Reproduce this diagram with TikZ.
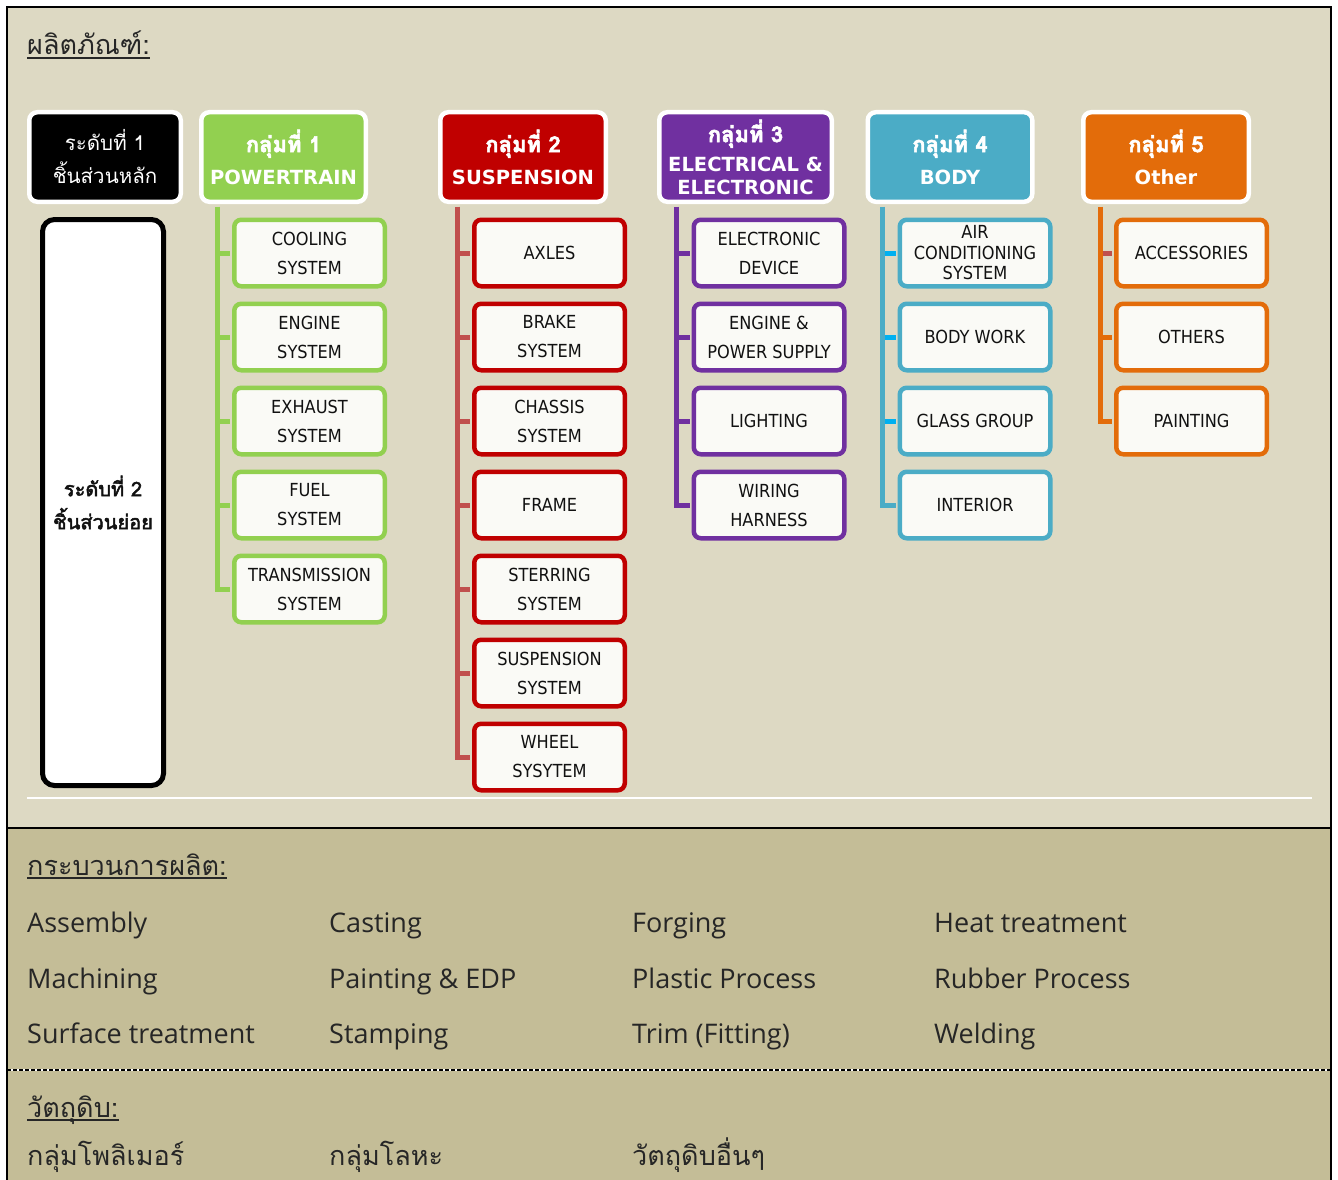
\documentclass[tikz,border=0pt]{standalone}
\usepackage{fontspec}
\setmainfont{Open Sans}
\newfontfamily\thaifont[Script=Thai]{Loma}
\newfontfamily\thaibold[Script=Thai, FakeBold=2.5]{Loma}
\newfontfamily\boxfont{DejaVu Sans Condensed}
\newfontfamily\headfont{DejaVu Sans}
\definecolor{topbg}{HTML}{DDD9C3}
\definecolor{botbg}{HTML}{C4BD97}
\definecolor{boxwhite}{HTML}{FAFAF6}
\definecolor{boxtext}{HTML}{111111}
\definecolor{lbltext}{HTML}{262626}
\definecolor{grp1}{HTML}{92D050}
\definecolor{grp2}{HTML}{C00000}
\definecolor{grp2line}{HTML}{C0504D}
\definecolor{grp3}{HTML}{7030A0}
\definecolor{grp4}{HTML}{4BACC6}
\definecolor{grp4stub}{HTML}{00B0F0}
\definecolor{grp5}{HTML}{E36C0A}
\newcommand{\grpname}[1]{{\thaibold\fontsize{22}{33}\selectfont #1}}
\tikzset{
  hdbox/.style={draw=white, fill=#1, line width=4.5pt, rounded corners=8pt,
    minimum height=89.5pt, align=center, text=white, inner sep=0pt,
    font=\headfont\bfseries\fontsize{19.5}{32}\selectfont},
  subbox/.style={draw=#1, fill=boxwhite, line width=4.5pt, rounded corners=7pt,
    minimum width=150.5pt, minimum height=66.5pt, align=center, text=boxtext,
    inner sep=0pt, font=\boxfont\fontsize{18}{29}\selectfont},
  trunk/.style={draw=#1, line width=5pt},
  heading/.style={anchor=base west, inner sep=0pt, text=lbltext,
    font=\thaifont\fontsize{27}{30}\selectfont},
  proclbl/.style={anchor=base west, inner sep=0pt, text=lbltext,
    font=\fontsize{27}{30}\selectfont},
  matlbl/.style={anchor=base west, inner sep=0pt, text=lbltext,
    font=\thaifont\fontsize{27}{30}\selectfont},
}
\begin{document}
\begin{tikzpicture}[x=1pt,y=-1pt]

\fill[white] (0,0) rectangle (1338,1180);
\useasboundingbox (0,0) rectangle (1338,1180);
\fill[topbg] (7,7) rectangle (1331,828);
\fill[botbg] (7,828) rectangle (1331,1182);
\draw[line width=1.5pt] (7,1182) -- (7,7) -- (1331,7) -- (1331,1182);
\draw[line width=1.5pt] (7,828) -- (1331,828);
\draw[white, line width=1.5pt] (7,1070) -- (1331,1070);
\draw[line width=1.5pt, dash pattern=on 4pt off 2pt] (7,1070) -- (1331,1070);
\draw[white, line width=2pt] (27,798) -- (1312,798);

% products
\node[heading] (tProd) at (27,55) {ผลิตภัณฑ์:};
\draw[lbltext, line width=1.3pt] ([yshift=-3pt]tProd.base west) -- ([yshift=-3pt]tProd.base east);

\node[hdbox=black, minimum width=151.5pt, font=\thaifont\fontsize{20.5}{33}\selectfont] (hdL1) at (105,157) {ระดับที่ 1\\ชิ้นส่วนหลัก};
\node[draw=black, fill=white, line width=5pt, rounded corners=12pt, minimum width=121pt,
  minimum height=566pt, align=center, text=boxtext, font=\thaibold\fontsize{20}{33}\selectfont] (hdL2) at (103,502.5) {ระดับที่ 2\\ชิ้นส่วนย่อย};

\node[hdbox=grp1, minimum width=164.5pt] (hdA) at (283.5,157) {\grpname{กลุ่มที่ 1}\\POWERTRAIN};
\node[hdbox=grp2, minimum width=165.5pt] (hdB) at (523,157) {\grpname{กลุ่มที่ 2}\\SUSPENSION};
\node[hdbox=grp3, minimum width=172.5pt, font=\headfont\bfseries\fontsize{19.5}{23}\selectfont] (hdC) at (745.5,157) {\grpname{กลุ่มที่ 3}\\[6pt]ELECTRICAL \&\\ELECTRONIC};
\node[hdbox=grp4, minimum width=164.5pt] (hdD) at (950,157) {\grpname{กลุ่มที่ 4}\\BODY};
\node[hdbox=grp5, minimum width=165.5pt] (hdE) at (1166,157) {\grpname{กลุ่มที่ 5}\\Other};

% group 1
\node[subbox=grp1] (cA1) at (309.5,253) {COOLING\\SYSTEM};
\node[subbox=grp1] (cA2) at (309.5,337) {ENGINE\\SYSTEM};
\node[subbox=grp1] (cA3) at (309.5,421) {EXHAUST\\SYSTEM};
\node[subbox=grp1] (cA4) at (309.5,505) {FUEL\\SYSTEM};
\node[subbox=grp1] (cA5) at (309.5,589) {TRANSMISSION\\SYSTEM};

% group 2
\node[subbox=grp2] (cB1) at (549.5,253) {AXLES};
\node[subbox=grp2] (cB2) at (549.5,337) {BRAKE\\SYSTEM};
\node[subbox=grp2] (cB3) at (549.5,421) {CHASSIS\\SYSTEM};
\node[subbox=grp2] (cB4) at (549.5,505) {FRAME};
\node[subbox=grp2] (cB5) at (549.5,589) {STERRING\\SYSTEM};
\node[subbox=grp2] (cB6) at (549.5,673) {SUSPENSION\\SYSTEM};
\node[subbox=grp2] (cB7) at (549.5,757) {WHEEL\\SYSYTEM};

% group 3
\node[subbox=grp3] (cC1) at (769,253) {ELECTRONIC\\DEVICE};
\node[subbox=grp3] (cC2) at (769,337) {ENGINE \&\\POWER SUPPLY};
\node[subbox=grp3] (cC3) at (769,421) {LIGHTING};
\node[subbox=grp3] (cC4) at (769,505) {WIRING\\HARNESS};

% group 4
\node[subbox=grp4, font=\boxfont\fontsize{18}{20.5}\selectfont] (cD1) at (975,253) {AIR\\CONDITIONING\\SYSTEM};
\node[subbox=grp4] (cD2) at (975,337) {BODY WORK};
\node[subbox=grp4] (cD3) at (975,421) {GLASS GROUP};
\node[subbox=grp4] (cD4) at (975,505) {INTERIOR};

% group 5
\node[subbox=grp5] (cE1) at (1191.5,253) {ACCESSORIES};
\node[subbox=grp5] (cE2) at (1191.5,337) {OTHERS};
\node[subbox=grp5] (cE3) at (1191.5,421) {PAINTING};

% trunks
\coordinate (tA) at ([xshift=18pt,yshift=-2.5pt]hdA.south west);
\coordinate (tB) at ([xshift=19pt,yshift=-2.5pt]hdB.south west);
\coordinate (tC) at ([xshift=19pt,yshift=-2.5pt]hdC.south west);
\coordinate (tD) at ([xshift=17pt,yshift=-2.5pt]hdD.south west);
\coordinate (tE) at ([xshift=19pt,yshift=-2.5pt]hdE.south west);

\draw[trunk=grp1] (tA) |- ([xshift=-2pt]cA5.west);
\draw[trunk=grp1] (tA |- cA1.west) -- ([xshift=-2pt]cA1.west);
\draw[trunk=grp1] (tA |- cA2.west) -- ([xshift=-2pt]cA2.west);
\draw[trunk=grp1] (tA |- cA3.west) -- ([xshift=-2pt]cA3.west);
\draw[trunk=grp1] (tA |- cA4.west) -- ([xshift=-2pt]cA4.west);

\draw[trunk=grp2line] (tB) |- ([xshift=-2pt]cB7.west);
\draw[trunk=grp2line] (tB |- cB1.west) -- ([xshift=-2pt]cB1.west);
\draw[trunk=grp2line] (tB |- cB2.west) -- ([xshift=-2pt]cB2.west);
\draw[trunk=grp2line] (tB |- cB3.west) -- ([xshift=-2pt]cB3.west);
\draw[trunk=grp2line] (tB |- cB4.west) -- ([xshift=-2pt]cB4.west);
\draw[trunk=grp2line] (tB |- cB5.west) -- ([xshift=-2pt]cB5.west);
\draw[trunk=grp2line] (tB |- cB6.west) -- ([xshift=-2pt]cB6.west);

\draw[trunk=grp3] (tC) |- ([xshift=-2pt]cC4.west);
\draw[trunk=grp3] (tC |- cC1.west) -- ([xshift=-2pt]cC1.west);
\draw[trunk=grp3] (tC |- cC2.west) -- ([xshift=-2pt]cC2.west);
\draw[trunk=grp3] (tC |- cC3.west) -- ([xshift=-2pt]cC3.west);

\draw[trunk=grp4] (tD) |- ([xshift=-2pt]cD4.west);
\draw[trunk=grp4stub] ([xshift=2.5pt]tD |- cD1.west) -- ([xshift=-2pt]cD1.west);
\draw[trunk=grp4stub] ([xshift=2.5pt]tD |- cD2.west) -- ([xshift=-2pt]cD2.west);
\draw[trunk=grp4stub] ([xshift=2.5pt]tD |- cD3.west) -- ([xshift=-2pt]cD3.west);

\draw[trunk=grp5] (tE) |- ([xshift=-2pt]cE3.west);
\draw[trunk=grp2line] ([xshift=2.5pt]tE |- cE1.west) -- ([xshift=-2pt]cE1.west);
\draw[trunk=grp5] (tE |- cE2.west) -- ([xshift=-2pt]cE2.west);

% processes
\node[heading] (tProc) at (27,875) {กระบวนการผลิต:};
\draw[lbltext, line width=1.3pt] ([yshift=-3pt]tProc.base west) -- ([yshift=-3pt]tProc.base east);

\node[proclbl] (p11) at (27,932) {Assembly};
\node[proclbl] (p12) at (329,932) {Casting};
\node[proclbl] (p13) at (632,932) {Forging};
\node[proclbl] (p14) at (934,932) {Heat treatment};
\node[proclbl] (p21) at (27,988) {Machining};
\node[proclbl] (p22) at (329,988) {Painting \& EDP};
\node[proclbl] (p23) at (632,988) {Plastic Process};
\node[proclbl] (p24) at (934,988) {Rubber Process};
\node[proclbl] (p31) at (27,1043) {Surface treatment};
\node[proclbl] (p32) at (329,1043) {Stamping};
\node[proclbl] (p33) at (632,1043) {Trim (Fitting)};
\node[proclbl] (p34) at (934,1043) {Welding};

% materials
\node[heading] (tMat) at (27,1117) {วัตถุดิบ:};
\draw[lbltext, line width=1.3pt] ([yshift=-3pt]tMat.base west) -- ([yshift=-3pt]tMat.base east);

\node[matlbl] (m1) at (27,1165) {กลุ่มโพลิเมอร์};
\node[matlbl] (m2) at (329,1165) {กลุ่มโลหะ};
\node[matlbl] (m3) at (632,1165) {วัตถุดิบอื่นๆ};

\end{tikzpicture}
\end{document}
